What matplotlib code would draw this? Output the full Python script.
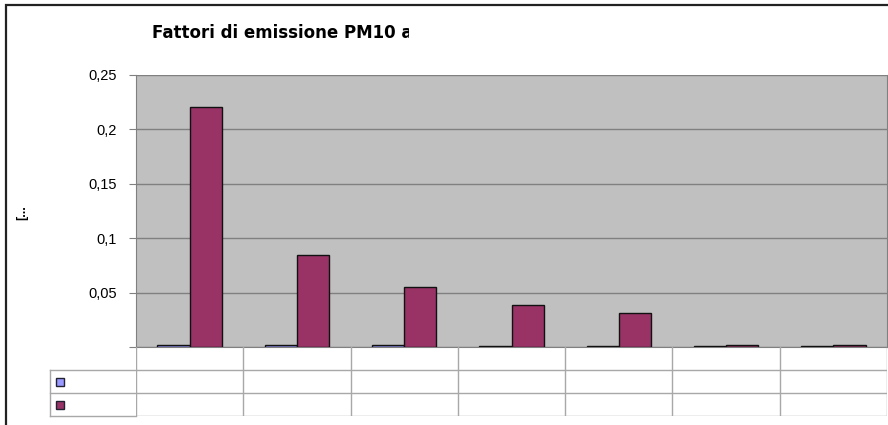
import numpy as np
import matplotlib
matplotlib.use("Agg")
import matplotlib.pyplot as plt
from matplotlib.patches import Rectangle
from matplotlib.lines import Line2D

plt.rcParams['font.family'] = ['Liberation Sans', 'DejaVu Sans']

# data (category labels are blank in the original table)
categories = ["", "", "", "", "", "", ""]
serie1 = [0.0018, 0.0018, 0.0018, 0.0009, 0.0009, 0.0009, 0.0009]
serie2 = [0.221, 0.085, 0.055, 0.039, 0.031, 0.0016, 0.0016]
yticks = [0, 0.05, 0.1, 0.15, 0.2, 0.25]
yticklabels = ["", "0,05", "0,1", "0,15", "0,2", "0,25"]
title = "Fattori di emissione PM10 a"
ylabel = "[..."

col1 = "#9999FF"
col2 = "#993366"

W, H = 888, 425
fig = plt.figure(figsize=(W / 100, H / 100), dpi=100)

def fx(px):
    return px / W

def fy(py):
    return 1 - py / H

# outer chart frame
fig.patches.append(Rectangle((fx(6), fy(460)), 1.2, fy(5) - fy(460),
                             transform=fig.transFigure, fill=False,
                             edgecolor="#222222", linewidth=1.6))

ax = fig.add_axes([fx(136), fy(347), fx(887) - fx(136), fy(75) - fy(347)])
ax.set_facecolor("#C0C0C0")
x = np.arange(len(categories))
w = 0.3
ax.bar(x - w / 2, serie1, w, color=col1, edgecolor="#111111", linewidth=1, zorder=3)
ax.bar(x + w / 2, serie2, w, color=col2, edgecolor="#111111", linewidth=1, zorder=3)
ax.set_xlim(-0.5, len(categories) - 0.5)
ax.set_ylim(0, 0.25)
ax.set_yticks(yticks)
ax.set_yticklabels(yticklabels, fontsize=10.5)
ax.set_xticks([])
ax.grid(axis="y", color="#808080", linewidth=1, zorder=0)
ax.tick_params(axis="y", length=5, color="#808080", pad=9)
for s in ["left", "right", "bottom"]:
    ax.spines[s].set_color("#808080")
ax.spines["top"].set_visible(False)

# title is cut off in the original chart
t = fig.text(fx(152), fy(33), title, fontsize=12, fontweight="bold",
             family="DejaVu Sans", va="center", ha="left")
clip = Rectangle((0, 0), fx(409), 1, transform=fig.transFigure)
t.set_clip_path(clip)

fig.text(fx(22), fy(213), ylabel, rotation=90, fontsize=9, fontweight="bold",
         va="center", ha="center")

# data table below the plot
tab = fig.add_axes([fx(136), fy(416), fx(887) - fx(136), fy(347) - fy(416)])
tab.set_xlim(-0.5, len(categories) - 0.5)
tab.set_ylim(0, 3)
tab.axis("off")
grid_c = "#A8A8A8"
for i in range(len(categories) + 1):
    tab.axvline(i - 0.5, color=grid_c, linewidth=1)
for yy in [0, 1, 2]:
    tab.axhline(yy, color=grid_c, linewidth=1)
for i, c in enumerate(categories):
    tab.text(i, 2.5, c, ha="center", va="center", fontsize=8)

# legend column of the table
for yy in [370, 393, 416]:
    fig.add_artist(Line2D([fx(50), fx(136)], [fy(yy), fy(yy)], color=grid_c, linewidth=1))
fig.add_artist(Line2D([fx(50), fx(50)], [fy(370), fy(416)], color=grid_c, linewidth=1))
for yc, col in [(382, col1), (405, col2)]:
    fig.patches.append(Rectangle((fx(56), fy(yc + 4)), fx(8), fy(0) - fy(8),
                                 transform=fig.transFigure, facecolor=col,
                                 edgecolor="#222233", linewidth=1))

fig.savefig("out.png", dpi=100)
